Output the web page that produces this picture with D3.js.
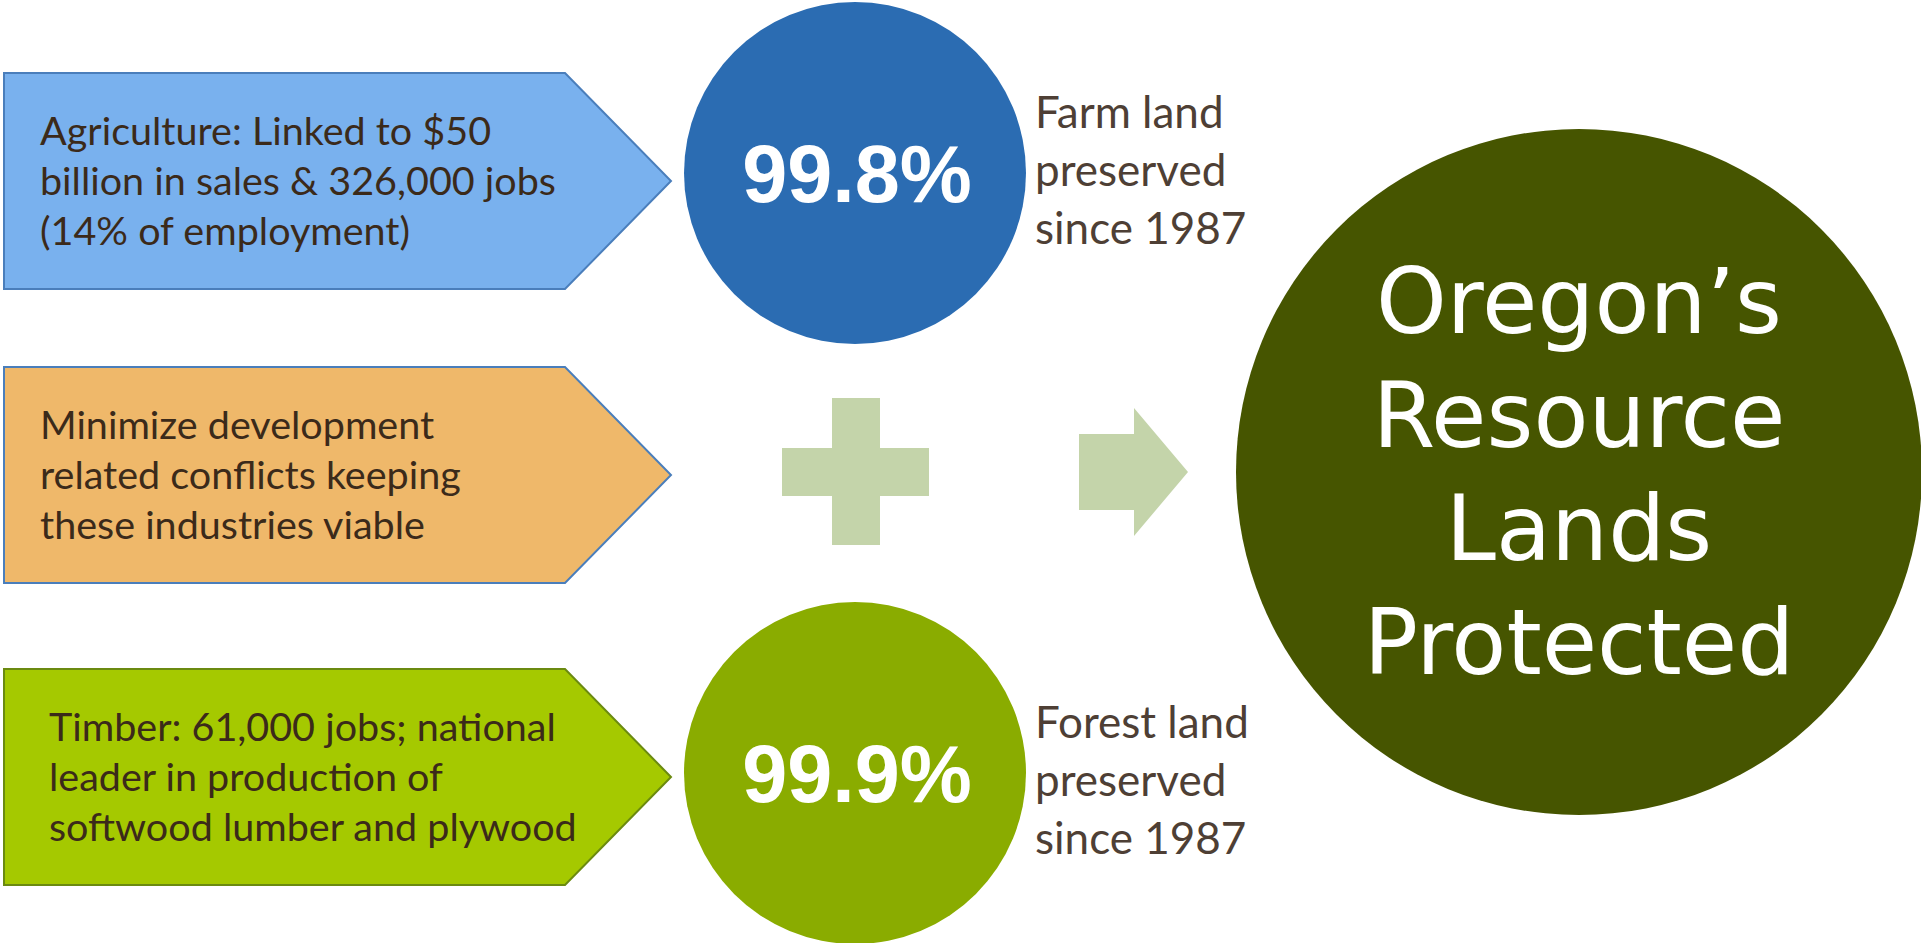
<!DOCTYPE html>
<html>
<head>
<meta charset="utf-8">
<style>
  body { margin: 0; background: #fff; }
</style>
</head>
<body>
<svg id="container" width="1921" height="943"></svg>
<script src="https://cdn.jsdelivr.net/npm/d3@7/dist/d3.min.js"></script>
<script>
// data
const rows = ["agriculture", "development", "timber"]
const boxLines = [
    ["Agriculture: Linked to $50", "billion in sales & 326,000 jobs", "(14% of employment)"],
    ["Minimize development", "related conflicts keeping", "these industries viable"],
    ["Timber: 61,000 jobs; national", "leader in production of", "softwood lumber and plywood"]
]
const boxFill = ["#79b1ee", "#efb86a", "#a5c900"]
const boxStroke = ["#4a7ebb", "#4a7ebb", "#6b8a10"]

const stats = ["farm", "forest"]
const statValues = ["99.8%", "99.9%"]
const statLines = [
    ["Farm land", "preserved", "since 1987"],
    ["Forest land", "preserved", "since 1987"]
]
const statFill = ["#2b6cb2", "#8aac00"]

const resultLines = ["Oregon\u2019s", "Resource", "Lands", "Protected"]

let svg = d3.select("#container")

// scales for layout
let yRow = d3.scaleBand().domain(rows).range([73, 885]).paddingInner(0.275)
let yStat = d3.scalePoint().domain(stats).range([173, 773])
let xBox = d3.scaleLinear().domain([0, 1]).range([4, 565])
const tipX = 671

// pentagon boxes
let boxes = svg.append("g").attr("id", "boxes")
    .selectAll("g")
    .data(rows)
    .enter()
    .append("g")

// middle box sits a little higher than an even split
let rowShift = [0, -4, 0]

boxes.append("path")
    .attr("d", (d, i) => {
        let y0 = yRow(d) + rowShift[i], y1 = y0 + yRow.bandwidth(), ym = (y0 + y1) / 2
        let p = d3.path()
        p.moveTo(xBox(0), y0)
        p.lineTo(xBox(1), y0)
        p.lineTo(tipX, ym)
        p.lineTo(xBox(1), y1)
        p.lineTo(xBox(0), y1)
        p.closePath()
        return p.toString()
    })
    .style("fill", (d, i) => boxFill[i])
    .style("stroke", (d, i) => boxStroke[i])
    .style("stroke-width", 2)

boxes.each(function (d, i) {
    let ym = yRow(d) + rowShift[i] + yRow.bandwidth() / 2
    let t = d3.select(this).append("text")
        .attr("font-family", "Lato, 'Open Sans', sans-serif")
        .attr("font-size", 39.5)
        .attr("fill", "#3b2a1a")
    boxLines[i].forEach((line, j) => {
        t.append("tspan")
            .attr("x", i == 2 ? 49 : 40)
            .attr("y", ym + (j - 1) * 50 + 14)
            .text(line)
    })
})

// stat circles
let statG = svg.append("g").attr("id", "stats")
    .selectAll("g")
    .data(stats)
    .enter()
    .append("g")

statG.append("circle")
    .attr("cx", 855)
    .attr("cy", d => yStat(d))
    .attr("r", 171)
    .style("fill", (d, i) => statFill[i])

statG.append("text")
    .attr("x", 857)
    .attr("y", d => yStat(d) + 29)
    .attr("text-anchor", "middle")
    .attr("font-family", "'Liberation Sans', Arial, sans-serif")
    .attr("font-weight", "bold")
    .attr("font-size", 81)
    .attr("fill", "#fff")
    .text((d, i) => statValues[i])

statG.each(function (d, i) {
    let t = d3.select(this).append("text")
        .attr("font-family", "Lato, 'Open Sans', sans-serif")
        .attr("font-size", 44)
        .attr("fill", "#4e3f35")
    let off = i == 0 ? -60 : -50
    statLines[i].forEach((line, j) => {
        t.append("tspan")
            .attr("x", 1035)
            .attr("y", yStat(d) + off + j * 58 + 15)
            .text(line)
    })
})

// plus and arrow
let sym = svg.append("g").attr("id", "symbols").style("fill", "#c4d4aa")
sym.append("rect").attr("x", 832).attr("y", 398).attr("width", 48).attr("height", 147)
sym.append("rect").attr("x", 782).attr("y", 448).attr("width", 147).attr("height", 48)
let ap = d3.path()
ap.moveTo(1079, 434)
ap.lineTo(1134, 434)
ap.lineTo(1134, 408)
ap.lineTo(1188, 472)
ap.lineTo(1134, 536)
ap.lineTo(1134, 510)
ap.lineTo(1079, 510)
ap.closePath()
sym.append("path").attr("d", ap.toString())

// result circle
let res = svg.append("g").attr("id", "result")
res.append("circle")
    .attr("cx", 1579)
    .attr("cy", 472)
    .attr("r", 343)
    .style("fill", "#465500")

let yRes = d3.scalePoint().domain(resultLines).range([333, 674])
res.selectAll("text")
    .data(resultLines)
    .enter()
    .append("text")
    .attr("x", 1579)
    .attr("y", d => yRes(d))
    .attr("text-anchor", "middle")
    .attr("font-family", "'DejaVu Sans', sans-serif")
    .attr("font-size", 90)
    .attr("fill", "#fff")
    .text(d => d)
</script>
</body>
</html>
